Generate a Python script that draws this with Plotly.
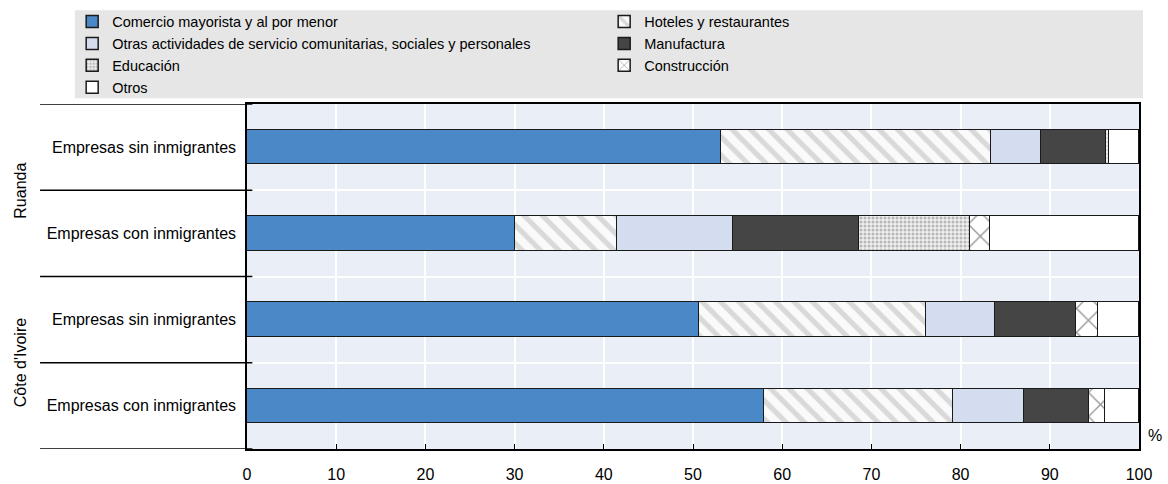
import plotly.graph_objects as go

# Filas de arriba a abajo
grupos = ["Ruanda", "Ruanda", "Côte d'Ivoire", "Côte d'Ivoire"]
empresas = [
    "Empresas sin inmigrantes",
    "Empresas con inmigrantes",
    "Empresas sin inmigrantes",
    "Empresas con inmigrantes",
]

# Participación por sector (%)
comercio = [53.1, 30.0, 50.7, 58.0]
hoteles = [30.3, 11.5, 25.4, 21.2]
otras_act = [5.6, 13.0, 7.7, 7.9]
manufactura = [7.3, 14.1, 9.1, 7.3]
educacion = [0.3, 12.5, 0.0, 0.0]
construccion = [0.0, 2.2, 2.5, 1.8]
otros = [3.4, 16.7, 4.6, 3.8]

x_ticks = [0, 10, 20, 30, 40, 50, 60, 70, 80, 90, 100]

FONT = "Liberation Sans, Arial, sans-serif"
LINE = dict(color="#1a1a1a", width=1.5)

series = [
    ("Comercio mayorista y al por menor", comercio,
     dict(color="#4a88c8", line=LINE)),
    ("Hoteles y restaurantes", hoteles,
     dict(color="#fafafa", line=LINE,
          pattern=dict(shape="\\", fgcolor="#b8b8b8", bgcolor="#fafafa",
                       size=13, solidity=0.4))),
    ("Otras actividades de servicio comunitarias, sociales y personales", otras_act,
     dict(color="#d4ddf0", line=LINE)),
    ("Manufactura", manufactura,
     dict(color="#454545", line=LINE)),
    ("Educación", educacion,
     dict(color="#eeeeee", line=LINE,
          pattern=dict(shape=".", fgcolor="#808080", bgcolor="#eeeeee",
                       size=4, solidity=0.45))),
    ("Construcción", construccion,
     dict(color="#ffffff", line=LINE,
          pattern=dict(shape="x", fgcolor="#333333", bgcolor="#ffffff",
                       size=17, solidity=0.16))),
    ("Otros", otros,
     dict(color="#ffffff", line=LINE)),
]

rows = list(range(len(empresas)))

fig = go.Figure()
for name, vals, marker in series:
    fig.add_trace(
        go.Bar(
            x=vals,
            y=rows,
            name=name,
            orientation="h",
            width=0.4,
            marker=marker,
            hovertemplate="%{x:.1f}%<extra>" + name + "</extra>",
        )
    )

# Separadores a la izquierda (entre filas)
for b in [r - 0.5 for r in rows] + [rows[-1] + 0.5]:
    fig.add_shape(
        type="line", xref="paper", yref="y",
        x0=-0.232, x1=0.006, y0=b, y1=b,
        line=dict(color="#000000", width=1.5),
    )

# Etiquetas de país (rotadas)
for g in dict.fromkeys(grupos):
    idx = [i for i, v in enumerate(grupos) if v == g]
    fig.add_annotation(
        x=-0.254, xref="paper", y=sum(idx) / len(idx), yref="y",
        xanchor="center", yanchor="middle",
        text=g, textangle=-90, showarrow=False,
        font=dict(family=FONT, size=16, color="#000000"),
    )

fig.add_annotation(
    x=1.0, xref="paper", y=0.0, yref="paper",
    text="%", showarrow=False, xanchor="left", yanchor="bottom",
    xshift=7, yshift=3,
    font=dict(family=FONT, size=16, color="#000000"),
)

# Fondo gris de la leyenda
fig.add_shape(
    type="rect", xref="paper", yref="paper", layer="below",
    x0=-0.193, x1=1.0045, y0=1.017, y1=1.272,
    fillcolor="#e6e6e6", line_width=0,
)

fig.update_layout(
    width=1168,
    height=484,
    barmode="stack",
    bargap=0.0,
    paper_bgcolor="#ffffff",
    plot_bgcolor="#e9eef7",
    font=dict(family=FONT, size=14, color="#000000"),
    margin=dict(l=247, r=29, t=104, b=35, autoexpand=False),
    showlegend=True,
    legend=dict(
        orientation="h",
        x=-0.196, xanchor="left",
        y=1.285, yanchor="top",
        entrywidth=487,
        traceorder="normal",
        bgcolor="rgba(0,0,0,0)",
        font=dict(family=FONT, size=14.5, color="#000000"),
        itemclick=False,
        itemdoubleclick=False,
        tracegroupgap=0,
    ),
    xaxis=dict(
        range=[0, 100],
        tickvals=x_ticks,
        ticks="inside",
        ticklen=5,
        tickcolor="#000000",
        showgrid=True,
        gridcolor="#ffffff",
        gridwidth=1.5,
        zeroline=False,
        showline=True,
        linecolor="#000000",
        linewidth=1.5,
        mirror=True,
        automargin=False,
        ticklabelstandoff=10,
        tickfont=dict(family=FONT, size=16, color="#000000"),
        fixedrange=True,
    ),
    yaxis=dict(
        range=[rows[-1] + 0.5, -0.5],
        tickvals=rows,
        ticktext=empresas,
        ticks="",
        showgrid=False,
        zeroline=False,
        showline=True,
        linecolor="#000000",
        linewidth=1.5,
        mirror=True,
        automargin=False,
        minor=dict(tick0=0.5, dtick=1, showgrid=True,
                   gridcolor="#ffffff", gridwidth=2),
        tickfont=dict(family=FONT, size=16, color="#000000"),
        ticklabelstandoff=6,
        fixedrange=True,
    ),
)

fig.write_html(
    "out.html",
    config={"displayModeBar": False},
    post_script="document.body.style.margin='0';",
)
